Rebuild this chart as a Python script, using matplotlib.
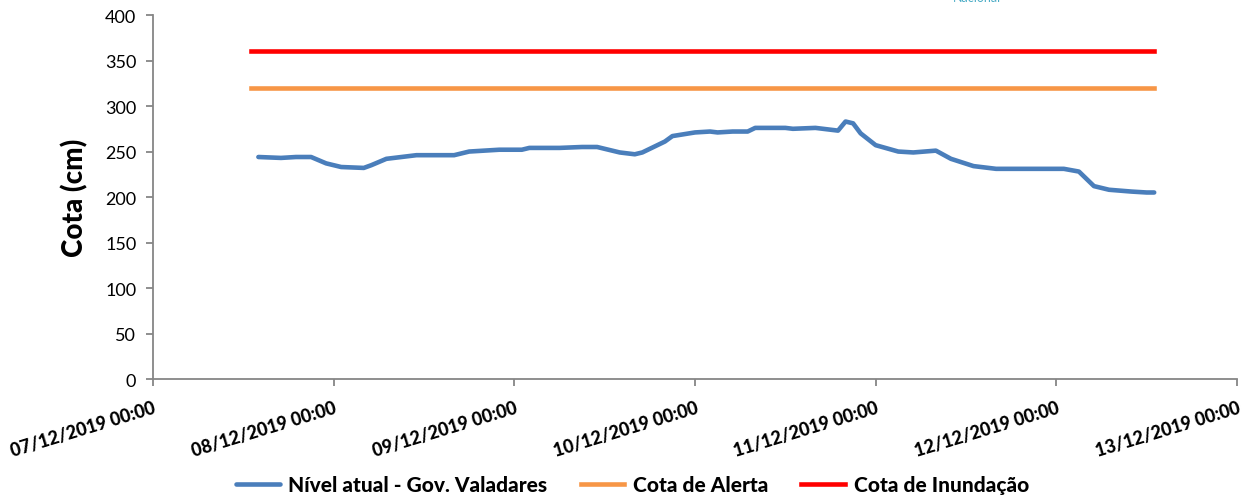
import matplotlib
matplotlib.use("Agg")
import matplotlib.pyplot as plt
import matplotlib.dates as mdates
import pandas as pd

plt.rcParams["font.family"] = ["Lato", "DejaVu Sans"]

# leituras do nivel (cm)
nivel_datas = [
    "2019-12-07 14:00", "2019-12-07 17:00", "2019-12-07 19:00", "2019-12-07 21:00",
    "2019-12-07 23:00", "2019-12-08 01:00", "2019-12-08 04:00", "2019-12-08 05:00",
    "2019-12-08 07:00", "2019-12-08 11:00", "2019-12-08 16:00", "2019-12-08 18:00",
    "2019-12-08 22:00", "2019-12-09 01:00", "2019-12-09 02:00", "2019-12-09 06:00",
    "2019-12-09 09:00", "2019-12-09 11:00", "2019-12-09 14:00", "2019-12-09 16:00",
    "2019-12-09 17:00", "2019-12-09 20:00", "2019-12-09 21:00", "2019-12-10 00:00",
    "2019-12-10 02:00", "2019-12-10 03:00", "2019-12-10 05:00", "2019-12-10 07:00",
    "2019-12-10 08:00", "2019-12-10 12:00", "2019-12-10 13:00", "2019-12-10 16:00",
    "2019-12-10 19:00", "2019-12-10 20:00", "2019-12-10 21:00", "2019-12-10 22:00",
    "2019-12-11 00:00", "2019-12-11 03:00", "2019-12-11 05:00", "2019-12-11 08:00",
    "2019-12-11 10:00", "2019-12-11 13:00", "2019-12-11 16:00", "2019-12-12 01:00",
    "2019-12-12 03:00", "2019-12-12 05:00", "2019-12-12 07:00", "2019-12-12 10:00",
    "2019-12-12 12:00", "2019-12-12 13:00",
]
nivel = [
    244, 243, 244, 244,
    237, 233, 232, 235,
    242, 246, 246, 250,
    252, 252, 254, 254,
    255, 255, 249, 247,
    249, 261, 267, 271,
    272, 271, 272, 272,
    276, 276, 275, 276,
    273, 283, 281, 270,
    257, 250, 249, 251,
    242, 234, 231, 231,
    228, 212, 208, 206,
    205, 205,
]

cota_datas = ["2019-12-07 13:00", "2019-12-12 13:00"]
cota_alerta = [320, 320]
cota_inundacao = [360, 360]

x_ini, x_fim = "2019-12-07 00:00", "2019-12-13 00:00"

fig = plt.figure(figsize=(12.5, 5.02), dpi=100)
ax = fig.add_axes([0.1224, 0.243, 0.8672, 0.725])

ax.plot(pd.to_datetime(nivel_datas), nivel, color="#4A7EBB", lw=3.3,
        solid_capstyle="round", solid_joinstyle="round",
        label="Nível atual - Gov. Valadares")
ax.plot(pd.to_datetime(cota_datas), cota_alerta, color="#F79646", lw=3.3,
        label="Cota de Alerta")
ax.plot(pd.to_datetime(cota_datas), cota_inundacao, color="#FF0000", lw=3.3,
        label="Cota de Inundação")

ax.set_xlim(pd.Timestamp(x_ini), pd.Timestamp(x_fim))
ax.set_ylim(0, 400)
ax.set_yticks(range(0, 401, 50))
ax.xaxis.set_major_locator(mdates.DayLocator())
ax.xaxis.set_major_formatter(mdates.DateFormatter("%d/%m/%Y %H:%M"))

for s in ["top", "right"]:
    ax.spines[s].set_visible(False)
for s in ["left", "bottom"]:
    ax.spines[s].set_color("#868686")
    ax.spines[s].set_linewidth(1.3)
ax.tick_params(colors="#868686", length=5, width=1.3, labelcolor="black")
ax.tick_params(axis="y", labelsize=13, pad=7)
ax.tick_params(axis="x", labelsize=13, pad=9)
for lbl in ax.get_xticklabels():
    lbl.set_rotation(17)
    lbl.set_rotation_mode("anchor")
    lbl.set_ha("right")
    lbl.set_va("top")
    lbl.set_fontweight("black")

ax.set_ylabel("Cota (cm)", fontsize=20, fontweight="black", labelpad=12)

fig.legend(loc="center", bbox_to_anchor=(0.506, 0.033), ncol=3, frameon=False,
           prop={"size": 15, "weight": "black"}, handlelength=2.1,
           handletextpad=0.4, columnspacing=1.6)

fig.text(0.762, 1.003, "Nacional", color="#4BACC6", fontsize=9, va="center")

fig.savefig("out.png", dpi=100)
